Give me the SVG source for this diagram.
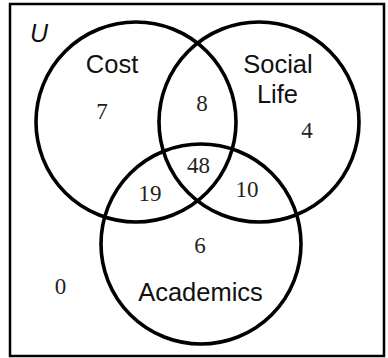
<svg xmlns="http://www.w3.org/2000/svg" width="388" height="358" viewBox="0 0 388 358">
<style>
.set{fill:none;stroke:#000;stroke-width:3.6}
.lbl{font-family:"Liberation Sans",Arial,sans-serif;font-size:25.5px;fill:#111;text-anchor:middle}
.num{font-family:"Liberation Serif","Times New Roman",serif;font-size:23px;fill:#222;text-anchor:middle}
</style>
<rect width="388" height="358" fill="#fff"/>
<g id="universe">
<rect x="10" y="4" width="374" height="352" fill="none" stroke="#000" stroke-width="2.5"/>
<text x="30" y="42" font-family="Liberation Sans,Arial,sans-serif" font-size="25" font-style="italic" fill="#111">U</text>
<text class="num" x="60.5" y="294">0</text>
</g>
<g id="cost">
<circle class="set" cx="136" cy="122" r="100"/>
<text class="lbl" x="112" y="73">Cost</text>
<text class="num" x="102" y="119">7</text>
</g>
<g id="social-life">
<circle class="set" cx="259" cy="122" r="100"/>
<text class="lbl" x="278" y="73">Social</text>
<text class="lbl" x="277.5" y="103">Life</text>
<text class="num" x="307" y="138">4</text>
</g>
<g id="academics">
<circle class="set" cx="201" cy="244" r="100"/>
<text class="lbl" x="200.5" y="301">Academics</text>
<text class="num" x="200" y="253">6</text>
</g>
<g id="intersections">
<text class="num" x="202" y="111">8</text>
<text class="num" x="198.5" y="173">48</text>
<text class="num" x="150" y="201">19</text>
<text class="num" x="247" y="197">10</text>
</g>
<g id="connectors"/>
</svg>
